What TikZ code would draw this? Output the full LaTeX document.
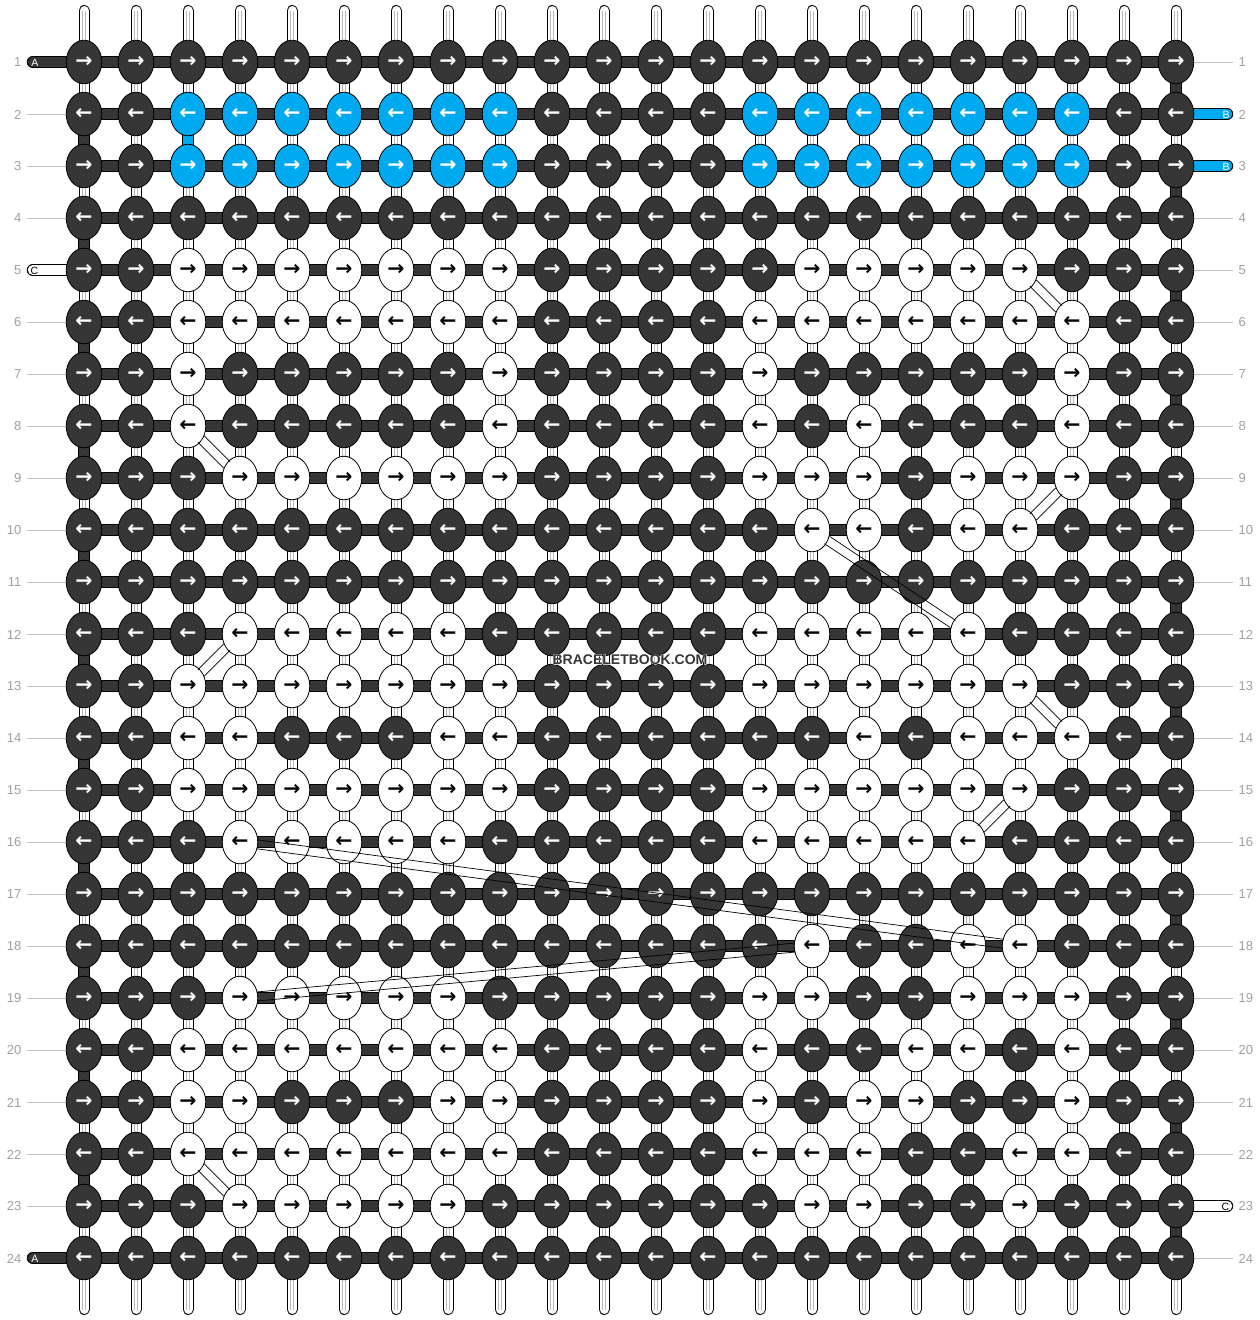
\documentclass[tikz,border=0pt]{standalone}
\usepackage{fontspec}
\setmainfont{Liberation Sans}
\newfontfamily\arrowfont{DejaVu Sans}
\newfontfamily\halofont{Liberation Sans Bold}[FakeBold=3.5]
\usetikzlibrary{shapes.geometric}
\definecolor{dk}{RGB}{54,54,54}
\definecolor{bl}{RGB}{0,170,240}
\definecolor{numgray}{RGB}{160,160,160}
\definecolor{guide}{RGB}{195,195,195}
\definecolor{strandgray}{RGB}{185,185,185}

\newcommand\setpat[2]{\expandafter\def\csname bbpat#1\endcsname{#2}}
\setpat{1}{d,d,d,d,d,d,d,d,d,d,d,d,d,d,d,d,d,d,d,d,d,d}
\setpat{2}{d,d,b,b,b,b,b,b,b,d,d,d,d,b,b,b,b,b,b,b,d,d}
\setpat{3}{d,d,b,b,b,b,b,b,b,d,d,d,d,b,b,b,b,b,b,b,d,d}
\setpat{4}{d,d,d,d,d,d,d,d,d,d,d,d,d,d,d,d,d,d,d,d,d,d}
\setpat{5}{d,d,w,w,w,w,w,w,w,d,d,d,d,d,w,w,w,w,w,d,d,d}
\setpat{6}{d,d,w,w,w,w,w,w,w,d,d,d,d,w,w,w,w,w,w,w,d,d}
\setpat{7}{d,d,w,d,d,d,d,d,w,d,d,d,d,w,d,d,d,d,d,w,d,d}
\setpat{8}{d,d,w,d,d,d,d,d,w,d,d,d,d,w,d,w,d,d,d,w,d,d}
\setpat{9}{d,d,d,w,w,w,w,w,w,d,d,d,d,w,w,w,d,w,w,w,d,d}
\setpat{10}{d,d,d,d,d,d,d,d,d,d,d,d,d,d,w,w,d,w,w,d,d,d}
\setpat{11}{d,d,d,d,d,d,d,d,d,d,d,d,d,d,d,d,d,d,d,d,d,d}
\setpat{12}{d,d,d,w,w,w,w,w,d,d,d,d,d,w,w,w,w,w,d,d,d,d}
\setpat{13}{d,d,w,w,w,w,w,w,w,d,d,d,d,w,w,w,w,w,w,d,d,d}
\setpat{14}{d,d,w,w,d,d,d,w,w,d,d,d,d,d,d,w,d,w,w,w,d,d}
\setpat{15}{d,d,w,w,w,w,w,w,w,d,d,d,d,w,w,w,w,w,w,d,d,d}
\setpat{16}{d,d,d,w,w,w,w,w,d,d,d,d,d,w,w,w,w,w,d,d,d,d}
\setpat{17}{d,d,d,d,d,d,d,d,d,d,d,d,d,d,d,d,d,d,d,d,d,d}
\setpat{18}{d,d,d,d,d,d,d,d,d,d,d,d,d,d,w,d,d,w,w,d,d,d}
\setpat{19}{d,d,d,w,w,w,w,w,d,d,d,d,d,w,w,d,d,w,w,w,d,d}
\setpat{20}{d,d,w,w,w,w,w,w,w,d,d,d,d,w,d,d,w,w,d,w,d,d}
\setpat{21}{d,d,w,w,d,d,d,w,w,d,d,d,d,w,d,w,w,d,d,w,d,d}
\setpat{22}{d,d,w,w,w,w,w,w,w,d,d,d,d,w,w,w,d,d,w,w,d,d}
\setpat{23}{d,d,d,w,w,w,w,w,d,d,d,d,d,d,w,w,d,d,w,d,d,d}
\setpat{24}{d,d,d,d,d,d,d,d,d,d,d,d,d,d,d,d,d,d,d,d,d,d}

\newcommand\bandline[3]{%
  \draw[line width=12.5pt] (#2) -- (#3);
  \draw[line width=10.5pt, #1] (#2) -- (#3);}
\newcommand\threadend[3]{%
  \draw[line width=12.5pt, line cap=round] (#2) -- (#3);
  \draw[line width=10.5pt, line cap=round, #1] (#2) -- (#3);}
\newcommand\diagline[7]{% from, to, dx, dy, -dx, -dy, shorten
  \draw[diag, shorten <=#7pt, shorten >=#7pt, transform canvas={shift={(#3,#4)}}] (#1.center) -- (#2.center);
  \draw[diag, shorten <=#7pt, shorten >=#7pt, transform canvas={shift={(#5,#6)}}] (#1.center) -- (#2.center);}

\begin{document}
\begin{tikzpicture}[x=1pt,y=-1pt,
  knot/.style={ellipse, draw=black, line width=0.8pt, minimum width=35.5pt,
    minimum height=43.5pt, inner sep=0pt,
    font=\arrowfont\bfseries\fontsize{20.5}{20.5}\selectfont},
  knot-d/.style={fill=dk, text=white},
  knot-w/.style={fill=white, text=black},
  knot-b/.style={fill=bl, text=white},
  numlbl/.style={text=numgray, font=\fontsize{13}{13}\selectfont, inner sep=0pt},
  tlabel/.style={font=\fontsize{10.5}{10.5}\selectfont, inner sep=0pt},
  guideline/.style={guide, line width=1pt},
  diag/.style={black, line width=0.7pt}]

\fill[white] (0,0) rectangle (1260,1320);
\useasboundingbox (0,0) rectangle (1260,1320);

% grid positions
\foreach \r in {1,...,24} {
  \foreach \c in {1,...,22} {
    \coordinate (p-\r-\c) at ({84+52*(\c-1)}, {62+52*(\r-1)});
  }
}

% vertical strings
\foreach \c in {1,...,22} {
  \coordinate (top-\c) at ({84+52*(\c-1)}, 10.5);
  \coordinate (bot-\c) at ({84+52*(\c-1)}, 1309.5);
  \draw[line width=11pt, line cap=round] (top-\c) -- (bot-\c);
  \draw[line width=9pt, white, line cap=round] (top-\c) -- (bot-\c);
  \draw[strandgray, line width=0.6pt, transform canvas={xshift=-1.5pt}] (top-\c) -- (bot-\c);
  \draw[strandgray, line width=0.6pt, transform canvas={xshift=1.5pt}] (top-\c) -- (bot-\c);
}

% edge turns of the working thread
\foreach \r [evaluate=\r as \rn using int(\r+1)] in {2,4,...,22} {
  \bandline{dk}{p-\r-1}{p-\rn-1}
}
\foreach \r [evaluate=\r as \rn using int(\r+1)] in {1,3,...,23} {
  \bandline{dk}{p-\r-22}{p-\rn-22}
}
\bandline{bl}{p-2-3}{p-3-3}

% horizontal rows
\foreach \r in {1,...,24} {
  \bandline{dk}{p-\r-1}{p-\r-22}
}

% thread ends
\coordinate (tl-1) at (33,62);
\coordinate (tl-5) at (33,270);
\coordinate (tl-24) at (33,1258);
\coordinate (tr-2) at (1227,114);
\coordinate (tr-3) at (1227,166);
\coordinate (tr-23) at (1227,1206);
\threadend{dk}{tl-1}{p-1-1}
\threadend{white}{tl-5}{p-5-1}
\threadend{dk}{tl-24}{p-24-1}
\threadend{bl}{tr-2}{p-2-22}
\threadend{bl}{tr-3}{p-3-22}
\threadend{white}{tr-23}{p-23-22}
\node[tlabel, text=white] (ta-1) at (35,62.5) {A};
\node[tlabel, text=black] (tc-5) at (34.5,270.5) {C};
\node[tlabel, text=white] (ta-24) at (35,1258.5) {A};
\node[tlabel, text=white] (tb-2) at (1226,114.5) {B};
\node[tlabel, text=white] (tb-3) at (1226,166.5) {B};
\node[tlabel, text=black] (tc-23) at (1225.5,1206.5) {C};

% guide lines
\foreach \r in {2,3,4,6,7,...,23} {
  \coordinate (gl-\r) at (27, {62+52*(\r-1)});
  \draw[guideline] (gl-\r) -- (p-\r-1);
}
\foreach \r in {1,4,5,...,22,24} {
  \coordinate (gr-\r) at (1233, {62+52*(\r-1)});
  \draw[guideline] (p-\r-22) -- (gr-\r);
}

% row numbers
\foreach \r in {1,...,24} {
  \node[numlbl, anchor=east] (nl-\r) at (21.5, {62.5+52*(\r-1)}) {\r};
  \node[numlbl, anchor=west] (nr-\r) at (1238.5, {62.5+52*(\r-1)}) {\r};
}

% knots
\foreach \r in {1,...,24} {
  \edef\pat{\csname bbpat\r\endcsname}
  \foreach \v [count=\c] in \pat {
    \node[knot, knot-\v] (k-\r-\c) at (p-\r-\c) {\ifodd\r →\else ←\fi};
  }
}

% colour changes
\diagline{k-5-19}{k-6-20}{3.18}{-3.18}{-3.18}{3.18}{18.5}
\diagline{k-8-3}{k-9-4}{3.18}{-3.18}{-3.18}{3.18}{18.5}
\diagline{k-9-20}{k-10-19}{3.18}{3.18}{-3.18}{-3.18}{18.5}
\diagline{k-10-15}{k-12-18}{2.5}{-3.74}{-2.5}{3.74}{18}
\diagline{k-12-4}{k-13-3}{3.18}{3.18}{-3.18}{-3.18}{18.5}
\diagline{k-13-19}{k-14-20}{3.18}{-3.18}{-3.18}{3.18}{18.5}
\diagline{k-15-19}{k-16-18}{3.18}{3.18}{-3.18}{-3.18}{18.5}
\diagline{k-16-4}{k-18-19}{0.59}{-4.46}{-0.59}{4.46}{17}
\diagline{k-18-15}{k-19-4}{0.41}{4.48}{-0.41}{-4.48}{17}
\diagline{k-22-3}{k-23-4}{3.18}{-3.18}{-3.18}{3.18}{18.5}

% watermark
\node[inner sep=0pt] (wm) at (630,659.5) {%
  \makebox[0pt]{\halofont\fontsize{14}{14}\selectfont\color{white}BRACELETBOOK.COM}%
  \makebox[0pt]{\bfseries\fontsize{14}{14}\selectfont\color{dk}BRACELETBOOK.COM}};
\end{tikzpicture}
\end{document}
